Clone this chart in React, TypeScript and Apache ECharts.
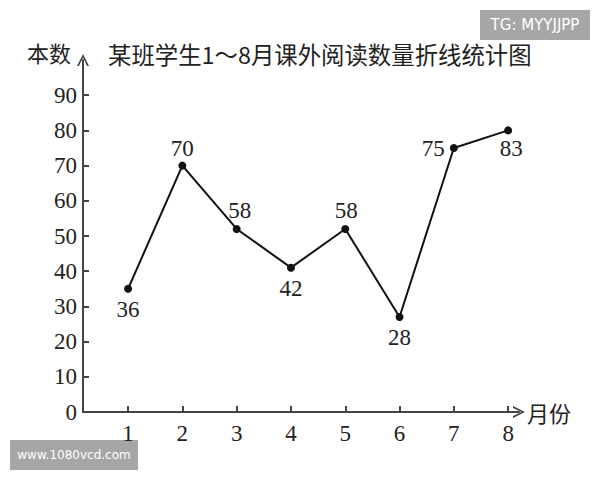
import { useEffect, useRef } from "react";
import * as echarts from "echarts";

// months on the x axis
const MONTHS = [1, 2, 3, 4, 5, 6, 7, 8];
// where the dots are drawn
const PLOTTED = [35, 70, 52, 41, 52, 27, 75, 80];
// the numbers printed next to the dots
const LABELS = ["36", "70", "58", "42", "58", "28", "75", "83"];
const Y_TICKS = [0, 10, 20, 30, 40, 50, 60, 70, 80, 90];

const SERIF = '"Liberation Serif", "DejaVu Serif", serif';
const CJK = '"Noto Sans CJK SC", "Noto Sans", sans-serif';
const INK = "#222";
const AXIS = "#444";

// open chevron, tip pointing up (rotated by echarts along the axis)
const CHEVRON = "path://M5,0 L10,10 L8.4,10 L5,3 L1.6,10 L0,10 Z";

const LABEL_PLACE: { position: string; offset: number[] }[] = [
  { position: "bottom", offset: [0, 0] },
  { position: "top", offset: [0, 3] },
  { position: "top", offset: [3, 2] },
  { position: "bottom", offset: [0, 0] },
  { position: "top", offset: [1, 2] },
  { position: "bottom", offset: [0, 0] },
  { position: "left", offset: [0, 0] },
  { position: "bottom", offset: [3, -2] },
];

export default function App() {
  const ref = useRef<HTMLDivElement>(null);

  useEffect(() => {
    if (!ref.current) return;
    const chart = echarts.init(ref.current, null, { renderer: "svg" });

    chart.setOption({
      animation: false,
      backgroundColor: "#fff",
      title: {
        text: "某班学生1～8月课外阅读数量折线统计图",
        left: 103,
        top: 37,
        textStyle: { fontSize: 23.4, fontFamily: CJK, fontWeight: "normal", color: INK },
      },
      grid: { left: 83, right: 81, top: 60, bottom: 68, outerBoundsMode: "none" },
      xAxis: {
        type: "value",
        min: 0.17,
        max: 8.2,
        name: "月份",
        nameLocation: "end",
        nameGap: 8,
        nameTextStyle: {
          fontSize: 22, fontFamily: CJK, color: INK,
          verticalAlign: "middle", padding: [34, 0, 0, 0],
        },
        axisLine: {
          lineStyle: { color: AXIS, width: 2 },
          symbol: ["none", CHEVRON],
          symbolSize: [12, 14],
        },
        axisTick: { inside: true, length: 6, customValues: MONTHS, lineStyle: { color: AXIS, width: 2 } },
        axisLabel: { customValues: MONTHS, margin: 10, fontSize: 23, fontFamily: SERIF, color: INK },
        splitLine: { show: false },
      },
      yAxis: {
        type: "value",
        min: 0,
        max: 100,
        name: "本数",
        nameLocation: "end",
        nameGap: 8,
        nameTextStyle: {
          fontSize: 22, fontFamily: CJK, color: INK,
          align: "right", verticalAlign: "middle", padding: [0, 12, 0, 0],
        },
        axisLine: {
          show: true,
          lineStyle: { color: AXIS, width: 2 },
          symbol: ["none", CHEVRON],
          symbolSize: [12, 14],
        },
        axisTick: { show: true, inside: true, length: 6, customValues: Y_TICKS, lineStyle: { color: AXIS, width: 2 } },
        axisLabel: { customValues: Y_TICKS, margin: 6, fontSize: 23, fontFamily: SERIF, color: INK },
        splitLine: { show: false },
      },
      series: [
        {
          type: "line",
          data: MONTHS.map((m, i) => ({
            value: [m, PLOTTED[i]],
            label: LABEL_PLACE[i],
          })),
          symbol: "circle",
          symbolSize: 8,
          itemStyle: { color: "#111" },
          lineStyle: { color: "#111", width: 2 },
          label: {
            show: true,
            fontSize: 23,
            fontFamily: SERIF,
            color: INK,
            distance: 5,
            formatter: (p: { dataIndex: number }) => LABELS[p.dataIndex],
          },
        },
      ],
      graphic: [
        {
          type: "group",
          left: 480,
          top: 10,
          children: [
            { type: "rect", shape: { x: 0, y: 0, width: 110, height: 30 }, style: { fill: "#a6a6a6" } },
            {
              type: "text", x: 55, y: 15,
              style: { text: "TG: MYYJJPP", fill: "#fff", font: '15px "DejaVu Sans", sans-serif', align: "center", verticalAlign: "middle" },
            },
          ],
        },
        {
          type: "group",
          left: 10,
          top: 440,
          children: [
            { type: "rect", shape: { x: 0, y: 0, width: 128, height: 30 }, style: { fill: "#a6a6a6" } },
            {
              type: "text", x: 64, y: 15,
              style: { text: "www.1080vcd.com", fill: "#fff", font: '12px "DejaVu Sans", sans-serif', align: "center", verticalAlign: "middle" },
            },
          ],
        },
      ],
    });

    return () => chart.dispose();
  }, []);

  return (
    <div
      ref={ref}
      style={{ position: "absolute", left: 0, top: 0, width: 600, height: 480, background: "#fff" }}
    />
  );
}
